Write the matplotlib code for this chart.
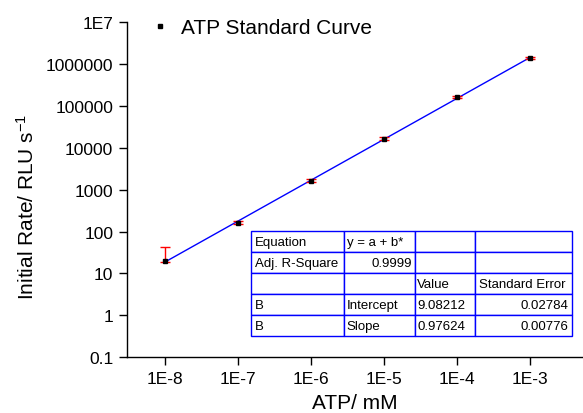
import matplotlib
matplotlib.use("Agg")
import matplotlib.pyplot as plt
import numpy as np

plt.rcParams['font.family'] = ['Liberation Sans', 'DejaVu Sans']
plt.rcParams['mathtext.fontset'] = 'custom'
plt.rcParams['mathtext.rm'] = 'Liberation Sans'
plt.rcParams['mathtext.it'] = 'Liberation Sans:italic'
plt.rcParams['mathtext.bf'] = 'Liberation Sans:bold'
plt.rcParams['mathtext.sf'] = 'Liberation Sans'

atp_mM = [1e-8, 1e-7, 1e-6, 1e-5, 1e-4, 1e-3]
rate = [19.5, 163, 1650, 16500, 163000, 1.40e6]
err_lo = [1.0, 12, 120, 1200, 12000, 100000]
err_hi = [22.5, 14, 120, 1200, 12000, 100000]
fit_intercept = 9.08212
fit_slope = 0.97624
ytick_vals = [0.1, 1, 10, 100, 1000, 10000, 100000, 1000000, 1e7]
ytick_labels = ["0.1", "1", "10", "100", "1000", "10000", "100000", "1000000", "1E7"]
xtick_vals = [1e-8, 1e-7, 1e-6, 1e-5, 1e-4, 1e-3]
xtick_labels = ["1E-8", "1E-7", "1E-6", "1E-5", "1E-4", "1E-3"]
table_rows = [
    ["Equation", "y = a + b*", "", ""],
    ["Adj. R-Square", "0.9999", "", ""],
    ["", "", "Value", "Standard Error"],
    ["B", "Intercept", "9.08212", "0.02784"],
    ["B", "Slope", "0.97624", "0.00776"],
]

fig = plt.figure(figsize=(5.83, 4.14), dpi=100)
ax = fig.add_axes([0.218, 0.135, 0.782, 0.809])
ax.set_xscale('log')
ax.set_yscale('log')

xf = np.array([atp_mM[0], atp_mM[-1]])
yf = 10 ** (fit_intercept + fit_slope * np.log10(xf))
ax.plot(xf, yf, color='#0000ff', lw=1.0, zorder=2)

ax.errorbar(atp_mM, rate, yerr=[err_lo, err_hi], fmt='none', ecolor='red',
            elinewidth=1.0, capsize=3.5, capthick=1.0, zorder=3)
ax.plot(atp_mM, rate, 's', color='black', ms=3.5, zorder=4, label='ATP Standard Curve')

ax.set_xlim(10 ** -8.52, 10 ** -2.27)
ax.set_ylim(0.1, 1e7)
ax.set_xticks(xtick_vals)
ax.set_xticklabels(xtick_labels)
ax.set_yticks(ytick_vals)
ax.set_yticklabels(ytick_labels)
ax.minorticks_off()
ax.tick_params(axis='both', direction='out', length=6, width=1, labelsize=12.5,
               colors='black', pad=4)
ax.spines['top'].set_visible(False)
ax.spines['right'].set_visible(False)
for s in ['left', 'bottom']:
    ax.spines[s].set_linewidth(1.0)

ax.set_xlabel("ATP/ mM", fontsize=15)
ax.set_ylabel(r"Initial Rate/ RLU s$^{\mathregular{-1}}$", fontsize=15)
ax.xaxis.set_label_coords(0.5, -0.108)
ax.yaxis.set_label_coords(-0.196, 0.451)

leg = ax.legend(loc='center left', bbox_to_anchor=(0.061, 0.983), frameon=False,
                fontsize=15, handlelength=0.5, handletextpad=0.75, borderpad=0,
                borderaxespad=0)

colw = np.array([93, 71, 60, 97], dtype=float)
colw = colw / colw.sum()
tbl = ax.table(cellText=table_rows, colWidths=list(colw),
               bbox=[0.2718, 0.063, 0.704, 0.3135], zorder=5)
tbl.auto_set_font_size(False)
tbl.set_fontsize(9.5)
align = {
    (1, 1): 'right', (3, 3): 'right', (4, 3): 'right',
}
for (r, c), cell in tbl.get_celld().items():
    cell.set_edgecolor('#0000ff')
    cell.set_linewidth(1.0)
    cell.set_facecolor('white')
    cell.PAD = 0.04
    cell._loc = align.get((r, c), 'left')
    cell.get_text().set_ha(cell._loc)

fig.savefig("out.png", dpi=100)
